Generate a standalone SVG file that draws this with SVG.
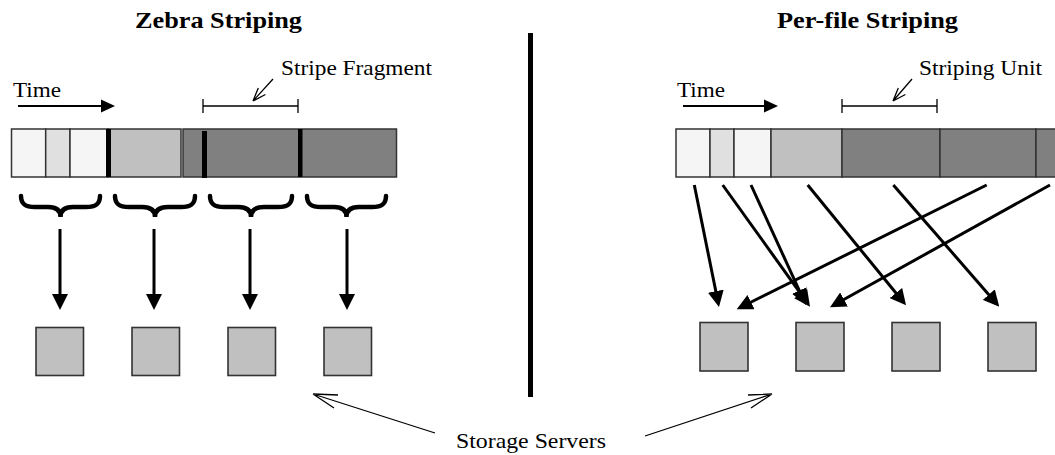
<svg xmlns="http://www.w3.org/2000/svg" width="1055" height="455" viewBox="0 0 1055 455">
<defs>
<style>
.t{font-family:"Liberation Serif","Times New Roman",serif;font-size:22px;fill:#000}
.h{font-family:"Liberation Serif","Times New Roman",serif;font-size:24px;font-weight:bold;fill:#000}
.seg{stroke:#333;stroke-width:1.5}
.w{fill:#f5f5f5}.lg{fill:#e0e0e0}.mg{fill:#c0c0c0}.dg{fill:#808080}
.srv{fill:#c0c0c0;stroke:#333;stroke-width:1.6}
.arr{stroke:#000;stroke-width:3;fill:none;marker-end:url(#ah)}
.brace{stroke:#000;stroke-width:4.5;fill:none;stroke-linecap:round}
.thin{stroke:#000;stroke-width:1.3;fill:none}
.bar{fill:#000}
</style>
<marker id="ah" markerUnits="userSpaceOnUse" viewBox="0 0 16 16" refX="11" refY="8" markerWidth="16" markerHeight="16" orient="auto">
<path d="M0,0 L16,8 L0,16 z" fill="#000"/>
</marker>
</defs>
<rect width="1055" height="455" fill="#fff"/>

<g id="titles">
<text class="h" x="135" y="28" textLength="167" lengthAdjust="spacingAndGlyphs">Zebra Striping</text>
<text class="h" x="777" y="28" textLength="181" lengthAdjust="spacingAndGlyphs">Per-file Striping</text>
</g>

<g id="separator"><rect x="528" y="33" width="5" height="364" fill="#000"/></g>

<g id="zebra-time">
<text class="t" x="13" y="97" textLength="48" lengthAdjust="spacingAndGlyphs">Time</text>
<line x1="18" y1="106" x2="103" y2="106" stroke="#000" stroke-width="2"/>
<polygon points="101,99.5 115,106 101,112.5" fill="#000"/>
</g>
<g id="zebra-fragment-label">
<text class="t" x="281" y="75" textLength="151" lengthAdjust="spacingAndGlyphs">Stripe Fragment</text>
<path class="thin" d="M273,79 L253,101 M253,101 L265.4,94.5 M253,101 L258.3,88"/>
<path class="thin" d="M203,106 H298 M203,99 V113 M298,99 V113"/>
</g>
<g id="zebra-log">
<rect class="seg w" x="11.5" y="129" width="34.2" height="48"/>
<rect class="seg lg" x="45.7" y="129" width="24.3" height="48"/>
<rect class="seg w" x="70" y="129" width="38" height="48"/>
<rect class="seg mg" x="108" y="129" width="73" height="48"/>
<rect class="bar" x="106" y="129" width="5" height="48"/>
<rect class="seg dg" x="183" y="129" width="213.5" height="48"/>
<rect class="bar" x="202" y="131" width="5" height="47"/>
<rect class="bar" x="298" y="129" width="4.5" height="48"/>
</g>
<g id="zebra-braces">
<path class="brace" d="M21,196 C21,204 25,207 35,207 L48,207 C56,207 60.5,210 60.5,217 C60.5,210 65,207 73,207 L86,207 C96,207 100,204 100,196"/>
<path class="brace" d="M115,196 C115,204 119,207 129,207 L142,207 C150,207 155,210 155,217 C155,210 160,207 168,207 L181,207 C191,207 195,204 195,196"/>
<path class="brace" d="M210,196 C210,204 214,207 224,207 L238,207 C246,207 251,210 251,217 C251,210 256,207 264,207 L278,207 C288,207 292,204 292,196"/>
<path class="brace" d="M307,196 C307,204 311,207 321,207 L334,207 C342,207 346.5,210 346.5,217 C346.5,210 351,207 359,207 L372,207 C382,207 386,204 386,196"/>
</g>
<g id="zebra-connectors">
<line class="arr" x1="60" y1="229" x2="60" y2="305"/>
<line class="arr" x1="154" y1="229" x2="154" y2="305"/>
<line class="arr" x1="250" y1="229" x2="250" y2="305"/>
<line class="arr" x1="347" y1="229" x2="347" y2="305"/>
</g>
<g id="zebra-server-1"><rect class="srv" x="36" y="327.5" width="47.5" height="48"/></g>
<g id="zebra-server-2"><rect class="srv" x="132" y="327.5" width="47.5" height="48"/></g>
<g id="zebra-server-3"><rect class="srv" x="228" y="327.5" width="47.5" height="48"/></g>
<g id="zebra-server-4"><rect class="srv" x="324" y="327.5" width="47.5" height="48"/></g>

<g id="perfile-time">
<text class="t" x="677" y="97" textLength="48" lengthAdjust="spacingAndGlyphs">Time</text>
<line x1="683" y1="106" x2="766" y2="106" stroke="#000" stroke-width="2"/>
<polygon points="764,99.5 778,106 764,112.5" fill="#000"/>
</g>
<g id="perfile-unit-label">
<text class="t" x="919" y="75" textLength="123" lengthAdjust="spacingAndGlyphs">Striping Unit</text>
<path class="thin" d="M912,79 L893,101 M893,101 L905.4,94.5 M893,101 L898.3,88"/>
<path class="thin" d="M842,106 H937 M842,99 V113 M937,99 V113"/>
</g>
<g id="perfile-log">
<rect class="seg w" x="676" y="129" width="34" height="48"/>
<rect class="seg lg" x="710" y="129" width="24" height="48"/>
<rect class="seg w" x="734" y="129" width="37" height="48"/>
<rect class="seg mg" x="771" y="129" width="71" height="48"/>
<rect class="seg dg" x="842" y="129" width="98" height="48"/>
<rect class="seg dg" x="940" y="129" width="96" height="48"/>
<rect class="seg dg" x="1036" y="129" width="30" height="48"/>
</g>
<g id="perfile-connectors">
<line class="arr" x1="694.3" y1="185" x2="718" y2="302"/>
<line class="arr" x1="722.7" y1="185" x2="807.1" y2="302.6"/>
<line class="arr" x1="751" y1="185" x2="803.9" y2="300.5"/>
<line class="arr" x1="807.7" y1="185" x2="902.9" y2="301.5"/>
<line class="arr" x1="893.3" y1="185" x2="996" y2="302.9"/>
<line class="arr" x1="986.7" y1="185" x2="741.2" y2="307"/>
<line class="arr" x1="1050" y1="185" x2="834.4" y2="304.8"/>
</g>
<g id="perfile-server-1"><rect class="srv" x="700" y="322.5" width="48" height="48.5"/></g>
<g id="perfile-server-2"><rect class="srv" x="796" y="322.5" width="48" height="48.5"/></g>
<g id="perfile-server-3"><rect class="srv" x="892" y="322.5" width="48" height="48.5"/></g>
<g id="perfile-server-4"><rect class="srv" x="988" y="322.5" width="48" height="48.5"/></g>

<g id="storage-label">
<text class="t" x="456" y="448" textLength="150" lengthAdjust="spacingAndGlyphs">Storage Servers</text>
<path class="thin" d="M435,433 L313,394 M313,394 L338,395 M313,394 L334,408"/>
<path class="thin" d="M645,436 L772,394 M772,394 L748,395 M772,394 L751,408"/>
</g>
</svg>
